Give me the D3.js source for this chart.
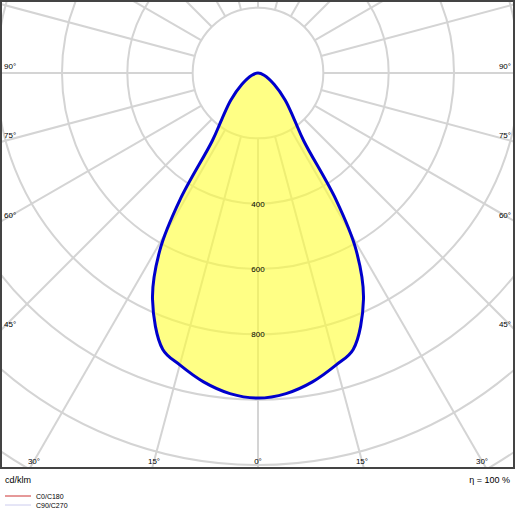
<!DOCTYPE html>
<html><head><meta charset="utf-8">
<script src="https://cdn.jsdelivr.net/npm/d3@7"></script>
<style>body{margin:0;background:#fff}svg{font-family:"Liberation Sans",Arial,sans-serif}</style>
</head><body><div id="chart-area"></div>
<script>
// luminous intensity (cd/klm) vs gamma angle, symmetric
var gammas = [0, 5, 10, 15, 19, 25, 29, 31.6, 34, 38, 45, 55, 70, 90];
var intensity = [995, 985, 960, 925, 895, 764, 619, 456, 250, 180, 118, 60, 20, 0];
var ringValues = [200, 400, 600, 800, 1000, 1200, 1400, 1600, 1800, 2000];
var ringLabels = [400, 600, 800];
var sideLabels = [90, 75, 60, 45];
var bottomLabels = [30, 15, 0];

var W = 515, H = 515, plotH = 469;
var cx = 258, cy = 73;

var svg = d3.select("#chart-area").append("svg")
	.attr("width", W)
	.attr("height", H);

var r = d3.scaleLinear().domain([0, 1000]).range([0, 326.7]);

svg.append("clipPath").attr("id", "clip")
	.append("rect").attr("x", 1).attr("y", 1).attr("width", W - 2).attr("height", plotH - 2);

var g = svg.append("g").attr("clip-path", "url(#clip)");
var grid = "#d4d4d4";

// rings
g.selectAll("circle.ring").data(ringValues).enter().append("circle")
	.attr("cx", cx).attr("cy", cy).attr("r", d => r(d))
	.attr("fill", "none").attr("stroke", grid).attr("stroke-width", 2);

// radial lines every 15 degrees, starting at inner ring
var rays = d3.range(0, 360, 15);
g.selectAll("line.ray").data(rays).enter().append("line")
	.attr("x1", d => cx + r(200) * Math.sin(d * Math.PI / 180))
	.attr("y1", d => cy + r(200) * Math.cos(d * Math.PI / 180))
	.attr("x2", d => cx + 1000 * Math.sin(d * Math.PI / 180))
	.attr("y2", d => cy + 1000 * Math.cos(d * Math.PI / 180))
	.attr("stroke", grid).attr("stroke-width", 2);

// light distribution curve
var pts = [];
for (var i = gammas.length - 2; i > 0; i--) pts.push([-gammas[i], intensity[i]]);
for (var i = 0; i < gammas.length; i++) pts.push([gammas[i], intensity[i]]);

var line = d3.line()
	.x(d => cx + r(d[1]) * Math.sin(d[0] * Math.PI / 180))
	.y(d => cy + r(d[1]) * Math.cos(d[0] * Math.PI / 180))
	.curve(d3.curveCatmullRomClosed);

g.append("path").datum(pts)
	.attr("d", line)
	.attr("fill", "#ffff33").attr("fill-opacity", 0.6)
	.attr("stroke", "#0000cc").attr("stroke-width", 3)
	.attr("stroke-linejoin", "round");

// ring labels
g.selectAll("text.ring").data(ringLabels).enter().append("text")
	.attr("x", cx).attr("y", d => cy + r(d) + 3)
	.attr("text-anchor", "middle").attr("font-size", 8).text(d => d);

// side labels
sideLabels.forEach(function (a) {
	var dy = a === 90 ? 0 : cx / Math.tan(a * Math.PI / 180);
	var y = cy + dy - 4;
	svg.append("text").attr("x", 4).attr("y", y).attr("font-size", 8).text(a + "°");
	svg.append("text").attr("x", 511).attr("y", y).attr("text-anchor", "end").attr("font-size", 8).text(a + "°");
});

// bottom labels
bottomLabels.forEach(function (a) {
	var dx = (461 - cy) * Math.tan(a * Math.PI / 180);
	svg.append("text").attr("x", cx - dx).attr("y", 464).attr("text-anchor", "middle").attr("font-size", 8).text(a + "°");
	if (a) svg.append("text").attr("x", cx + dx).attr("y", 464).attr("text-anchor", "middle").attr("font-size", 8).text(a + "°");
});

// frame
svg.append("rect").attr("x", 1).attr("y", 1).attr("width", W - 2).attr("height", plotH - 2)
	.attr("fill", "none").attr("stroke", "#444").attr("stroke-width", 2);

svg.append("text").attr("x", 5).attr("y", 483).attr("font-size", 9).text("cd/klm");
svg.append("text").attr("x", 510).attr("y", 483).attr("text-anchor", "end").attr("font-size", 9).text("η = 100 %");

// legend
var legend = [["C0/C180", "#cc3333"], ["C90/C270", "#ccccee"]];
legend.forEach(function (d, i) {
	svg.append("line").attr("x1", 5).attr("x2", 31).attr("y1", 496 + i * 9).attr("y2", 496 + i * 9)
		.attr("stroke", d[1]).attr("stroke-width", 1);
	svg.append("text").attr("x", 36).attr("y", 499 + i * 9).attr("font-size", 7).text(d[0]);
});
</script></body></html>
